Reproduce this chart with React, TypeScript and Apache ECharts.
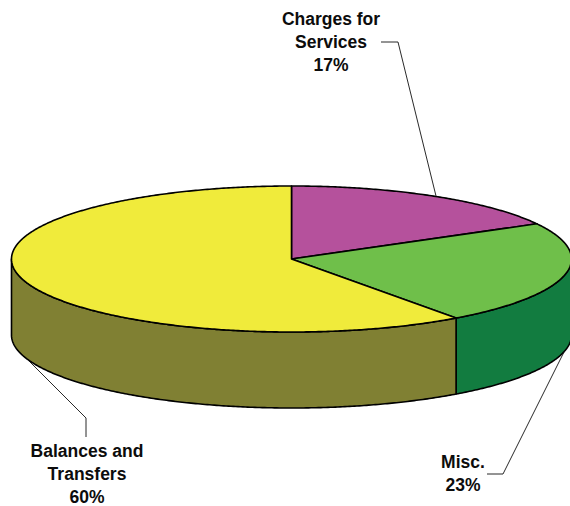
import React, { useEffect, useRef } from "react";
import * as echarts from "echarts";

// Revenue shares, clockwise from twelve o'clock
const sliceNames = ["Charges for\nServices", "Misc.", "Balances and\nTransfers"];
const sliceValues = [17, 23, 60];
const topColors = ["#B5519C", "#6FBF4A", "#F0EB3B"];
const wallColors = ["#7A2F66", "#127C40", "#808033"];

const CX = 291.5;
const CY = 259;
const RX = 280;
const RY = 73;
const DEPTH = 76;
const STEP = 0.5;
const FONT = "Liberation Sans, Arial, sans-serif";

const total = sliceValues.reduce((a, b) => a + b, 0);

const rimPoint = (deg: number, drop = 0): number[] => {
  const r = (deg * Math.PI) / 180;
  return [CX + RX * Math.sin(r), CY - RY * Math.cos(r) + drop];
};

const arcPoints = (from: number, to: number, drop = 0): number[][] => {
  const pts: number[][] = [];
  for (let d = from; d < to; d += STEP) pts.push(rimPoint(d, drop));
  pts.push(rimPoint(to, drop));
  return pts;
};

const outline = { stroke: "#000", lineWidth: 1.6, lineJoin: "round" };

// Each slice: the front-facing wall (only the rim between 90° and 270° shows) and its top face
const renderSlice = (params: any, api: any) => {
  const idx = params.dataIndex;
  const before = sliceValues.slice(0, idx).reduce((a, b) => a + b, 0);
  const start = (before / total) * 360;
  const end = start + (api.value(0) / total) * 360;
  const children: any[] = [];
  const wallFrom = Math.max(start, 90);
  const wallTo = Math.min(end, 270);
  if (wallTo > wallFrom) {
    children.push({
      type: "polygon",
      z2: 1,
      shape: {
        points: [...arcPoints(wallFrom, wallTo), ...arcPoints(wallFrom, wallTo, DEPTH).reverse()],
      },
      style: { fill: wallColors[idx], ...outline },
    });
  }
  children.push({
    type: "polygon",
    z2: 2,
    shape: { points: [[CX, CY], ...arcPoints(start, end)] },
    style: { fill: topColors[idx], ...outline },
  });
  return { type: "group", children };
};

const labelText = (i: number) => `${sliceNames[i]}\n${sliceValues[i]}%`;

const label = (i: number, x: number, y: number) => ({
  type: "text",
  x,
  y,
  style: {
    text: labelText(i),
    fill: "#0c0c0c",
    font: `bold 17.5px ${FONT}`,
    lineHeight: 23,
    align: "center",
    verticalAlign: "middle",
  },
});

const leader = (points: number[][]) => ({
  type: "polyline",
  shape: { points },
  style: { stroke: "#111", lineWidth: 0.9, fill: "none" },
  z: 10,
});

export default function App() {
  const ref = useRef<HTMLDivElement>(null);
  useEffect(() => {
    document.body.style.margin = "0";
    const chart = echarts.init(ref.current!, undefined, { renderer: "svg" });
    chart.setOption({
      animation: false,
      backgroundColor: "#fff",
      series: [
        {
          type: "custom",
          coordinateSystem: "none",
          silent: true,
          clip: false,
          data: sliceValues.map((v) => [v]),
          renderItem: renderSlice,
        },
      ],
      graphic: [
        label(0, 331, 42),
        label(1, 463, 473),
        label(2, 87, 474),
        leader([[381, 42], [398, 42], [436, 196]]),
        leader([[487, 474], [503, 474], [565, 350]]),
        leader([[86, 437], [86, 418], [28, 360]]),
      ],
    });
    return () => chart.dispose();
  }, []);
  return <div ref={ref} style={{ width: 570, height: 506 }} />;
}
